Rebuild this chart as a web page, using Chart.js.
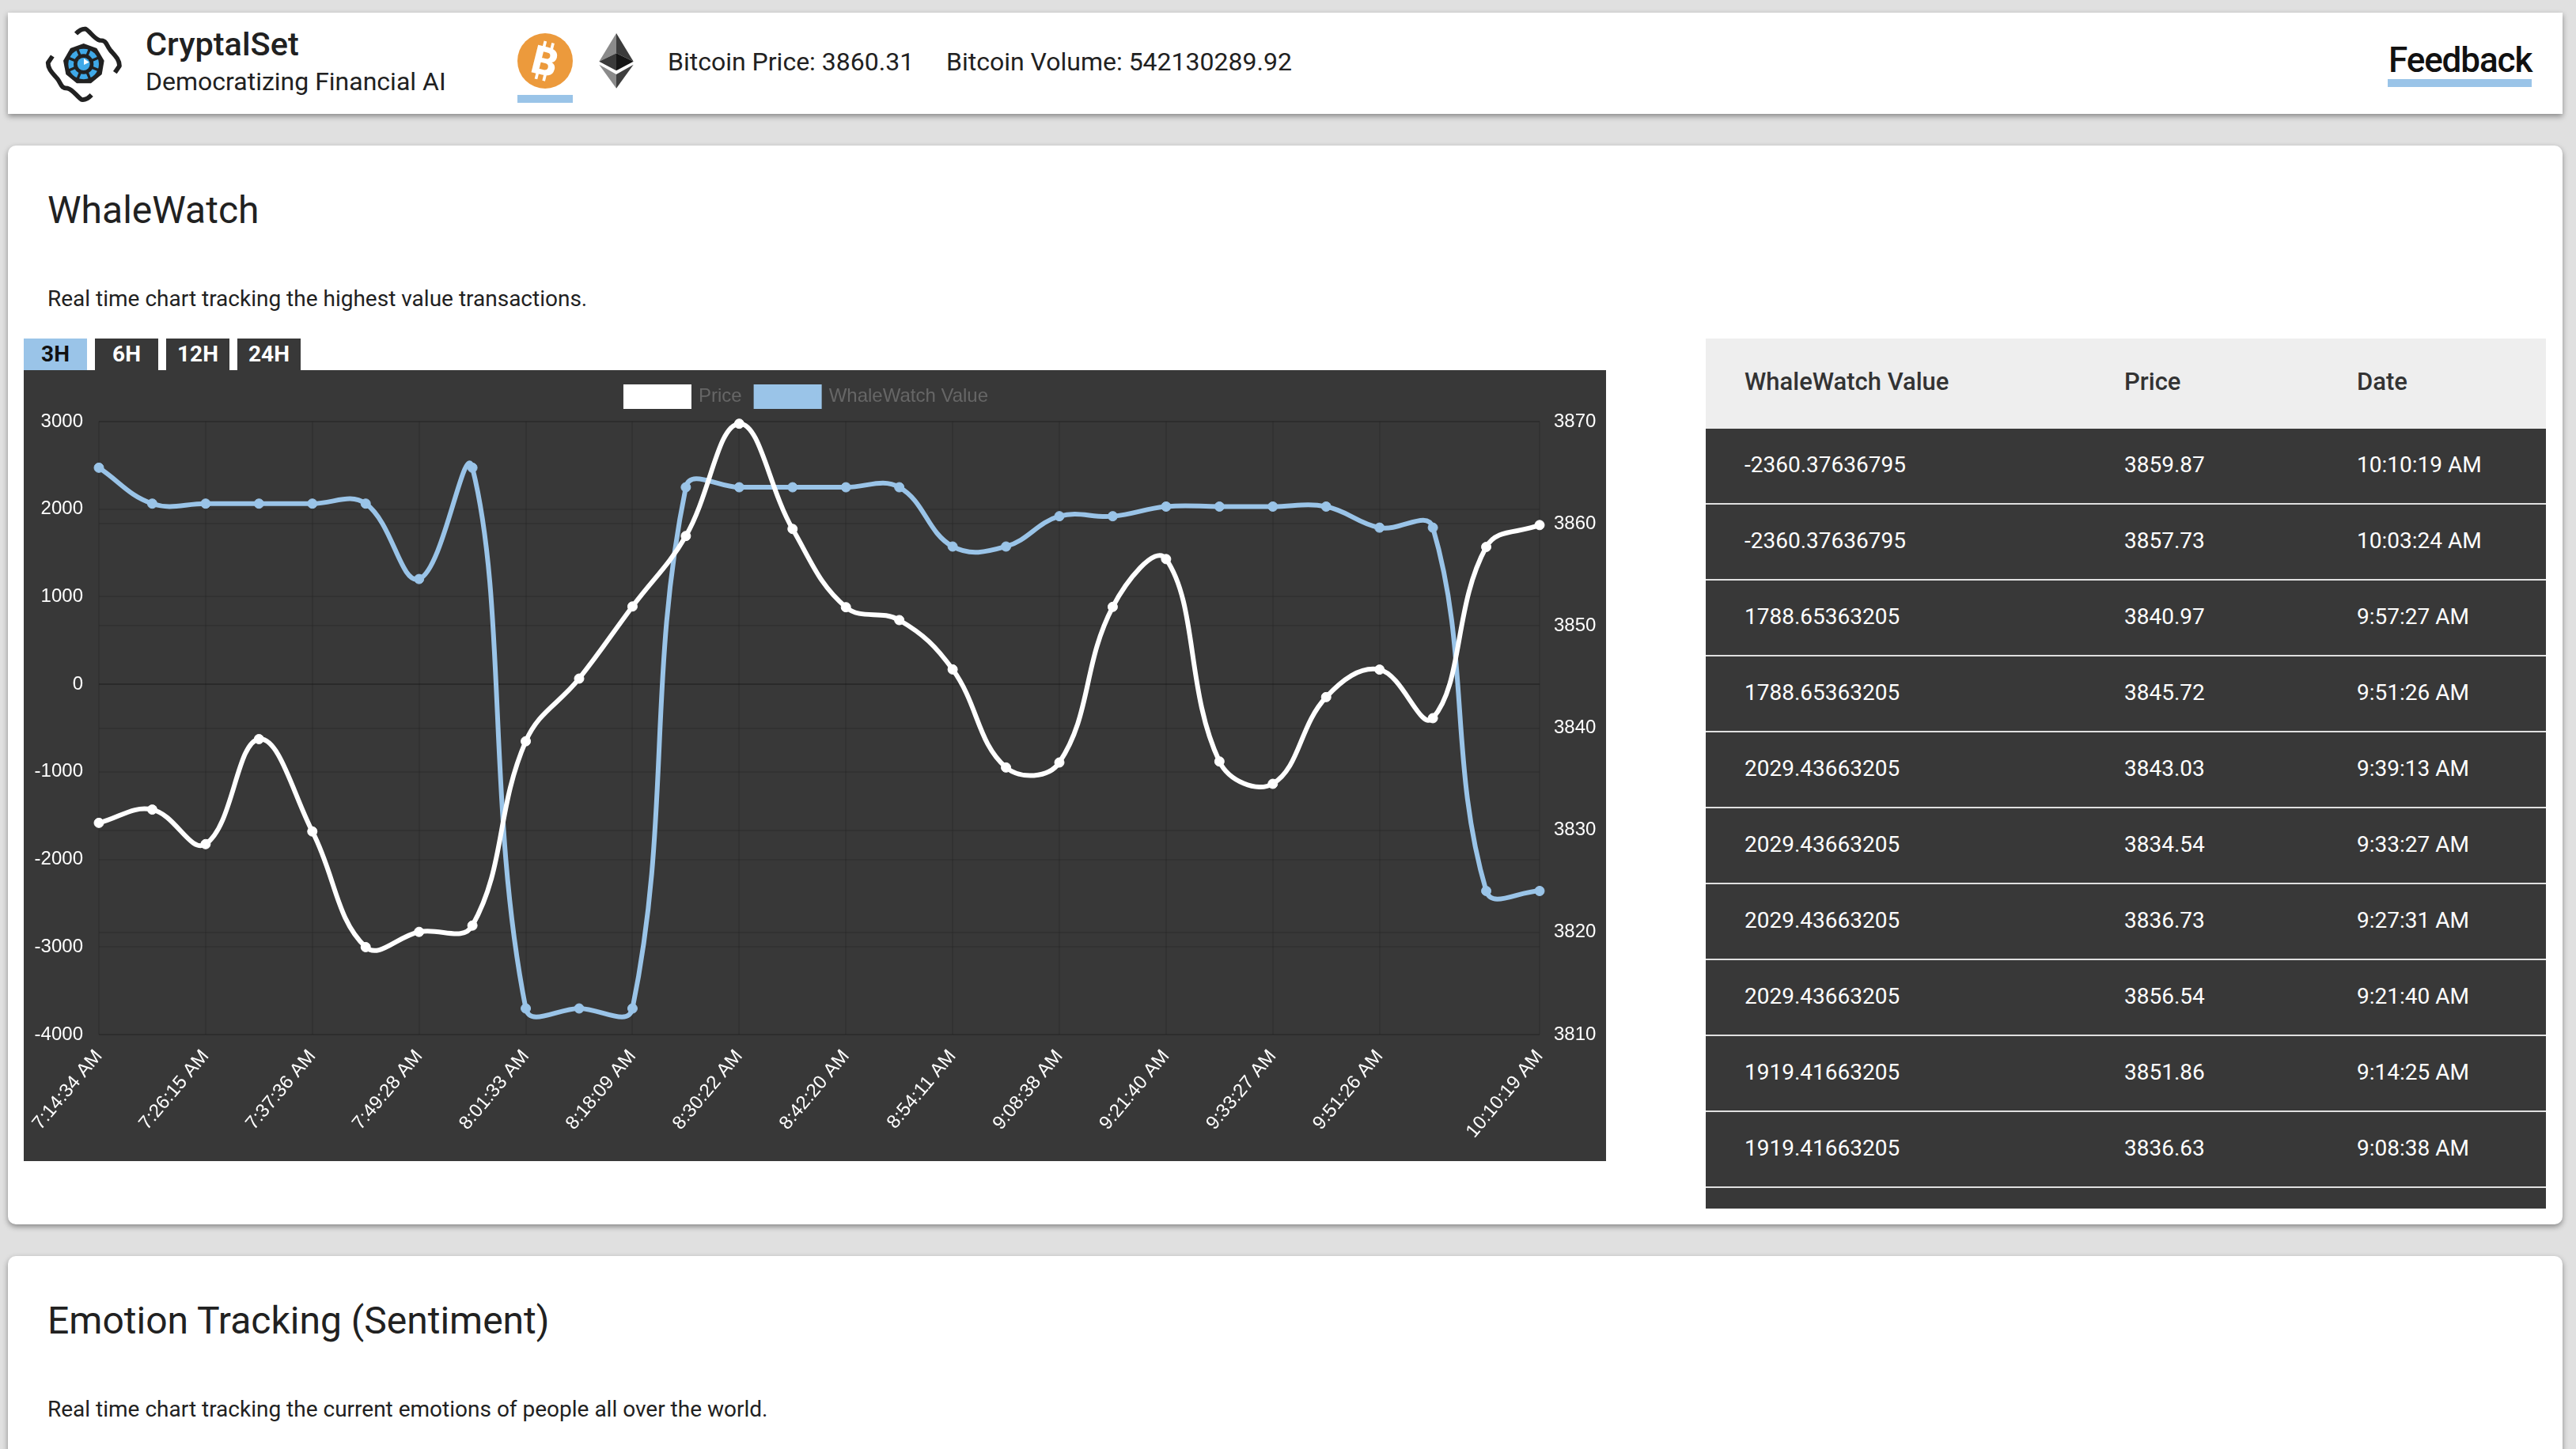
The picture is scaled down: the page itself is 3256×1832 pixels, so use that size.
<!DOCTYPE html>
<html><head><meta charset="utf-8"><title>CryptalSet WhaleWatch</title>
<script src="https://cdn.jsdelivr.net/npm/chart.js@4"></script>
<style>
html,body{margin:0;padding:0;width:3256px;height:1832px;overflow:hidden;background:#e0e0e0;font-family:Roboto,sans-serif;color:#212121}
.abs,.card,.t,.btn,.cell{position:absolute}
.card{background:#fff;left:10px;width:3229px;box-shadow:0 3px 7px rgba(0,0,0,.4);}
.t{white-space:nowrap;line-height:1}
.btn{top:428px;width:80px;height:40px;background:#383838;color:#fff;font:700 28px/40px Roboto,sans-serif;text-align:center}
.cell{white-space:nowrap;line-height:1;color:#fff;font-size:28px}
</style></head><body>
<script>
const timeLabels=["7:14:34 AM","7:20:20 AM","7:26:15 AM","7:32:00 AM","7:37:36 AM","7:43:30 AM","7:49:28 AM","7:55:30 AM","8:01:33 AM","8:10:00 AM","8:18:09 AM","8:24:15 AM","8:30:22 AM","8:36:20 AM","8:42:20 AM","8:48:15 AM","8:54:11 AM","9:01:20 AM","9:08:38 AM","9:14:25 AM","9:21:40 AM","9:27:31 AM","9:33:27 AM","9:39:13 AM","9:51:26 AM","9:57:27 AM","10:03:24 AM","10:10:19 AM"];
const priceValues=[3830.72,3832.02,3828.64,3838.92,3829.88,3818.56,3820.05,3820.67,3838.71,3844.84,3851.9,3858.8,3869.79,3859.49,3851.83,3850.57,3845.74,3836.14,3836.63,3851.86,3856.54,3836.73,3834.54,3843.03,3845.72,3840.97,3857.73,3859.87];
const whaleValues=[2473,2063,2063,2063,2063,2063,1202,2473,-3702,-3702,-3702,2250,2250,2250,2250,2250,1573,1573,1919.42,1919.42,2029.44,2029.44,2029.44,2029.44,1788.65,1788.65,-2360.38,-2360.38];
const shownTicks=[0,2,4,6,8,10,12,14,16,18,20,22,24,27];
const leftTicks=[3000,2000,1000,0,-1000,-2000,-3000,-4000];
const rightTicks=[3870,3860,3850,3840,3830,3820,3810];
const tableValues=["-2360.37636795","-2360.37636795","1788.65363205","1788.65363205","2029.43663205","2029.43663205","2029.43663205","2029.43663205","1919.41663205","1919.41663205"];
const tablePrices=["3859.87","3857.73","3840.97","3845.72","3843.03","3834.54","3836.73","3856.54","3851.86","3836.63"];
const tableDates=["10:10:19 AM","10:03:24 AM","9:57:27 AM","9:51:26 AM","9:39:13 AM","9:33:27 AM","9:27:31 AM","9:21:40 AM","9:14:25 AM","9:08:38 AM"];

const page=[];
const T=(txt,x,y,css)=>page.push(`<div class="t" style="left:${x}px;top:${y}px;${css}">${txt}</div>`);
const R=(x,y,w,h,c)=>page.push(`<div class="abs" style="left:${x}px;top:${y}px;width:${w}px;height:${h}px;background:${c}"></div>`);
page.push('<div class="card" style="top:16px;height:128px"></div>');
page.push('<div class="card" style="top:184px;height:1364px;border-radius:10px"></div>');
page.push('<div class="card" style="top:1588px;height:300px;border-radius:10px"></div>');
// logo
const spokes=[0,45,90,135,180,225,270,315].map(a=>`<line x1="197" y1="183" x2="197" y2="118" transform="rotate(${a+22} 197 183)"/>`).join('');
page.push(`<svg class="abs" style="left:40px;top:20px" width="130" height="120" viewBox="0 0 390 360">
<g fill="none" stroke="#212121" stroke-width="17" stroke-linejoin="round">
<path d="M168 68 C180 55 190 48 205 50 C222 60 238 88 258 93 C285 92 282 110 298 130 C315 150 333 165 333 190 L316 215"/>
<path d="M227 300 C215 313 205 320 190 318 C173 308 157 280 137 275 C110 276 113 258 97 238 C80 218 62 203 62 178 L79 153"/></g>
<polygon points="197,105 247,123 275,170 266,222 225,256 171,256 130,222 120,170 147,123" fill="#212121"/>
<circle cx="197" cy="183" r="58" fill="#3FA9E8"/><g stroke="#212121" stroke-width="10">${spokes}</g>
<circle cx="197" cy="183" r="38" fill="#212121"/><circle cx="197" cy="183" r="24" fill="#3FA9E8"/>
<polygon points="198,162 218,176 198,186" fill="#fff"/></svg>`);
T('CryptalSet',184,35,'font-size:41.5px;font-weight:500');
T('Democratizing Financial AI',184,87,'font-size:32px');
// bitcoin and ether icons
page.push(`<svg class="abs" style="left:640px;top:30px" width="180" height="110" viewBox="0 0 540 330">
<circle cx="147" cy="141" r="105" fill="#EC9A3C"/>
<g transform="rotate(14 147 141)"><text x="147" y="195" text-anchor="middle" font-family="Roboto" font-weight="900" font-size="150" fill="#fff">B</text>
<g stroke="#fff" stroke-width="11"><path d="M130 68V92M160 68V92M130 192V216M160 192V216"/></g></g>
<polygon points="417,36 352,143 417,112" fill="#8a8a8a"/><polygon points="417,36 482,143 417,112" fill="#3c3c3c"/>
<polygon points="352,143 417,112 417,178" fill="#3a3a3a"/><polygon points="482,143 417,112 417,178" fill="#151515"/>
<polygon points="352,155 417,192 417,245" fill="#8a8a8a"/><polygon points="482,155 417,192 417,245" fill="#3e3e3e"/></svg>`);
R(654,120,70,10,'#9AC4E8');
T('Bitcoin Price: 3860.31',844,62,'font-size:32px');
T('Bitcoin Volume: 542130289.92',1196,62,'font-size:32px');
T('Feedback',3019,54,'font-size:44px;font-weight:500;letter-spacing:-1.1px;color:#111');
R(3018,100,182,10,'#9AC4E8');
T('WhaleWatch',60,242,'font-size:48px');
T('Real time chart tracking the highest value transactions.',60,364,'font-size:28px');
T('Emotion Tracking (Sentiment)',60,1646,'font-size:48px');
T('Real time chart tracking the current emotions of people all over the world.',60,1768,'font-size:28px');
[['3H',30],['6H',120],['12H',210],['24H',300]].forEach((b,i)=>page.push(`<div class="btn" style="left:${b[1]}px;${i==0?'background:#9AC4E8;color:#111':''}">${b[0]}</div>`));
// table
R(2156,428,1062,114,'#eee');
R(2156,542,1062,986,'#383838');
[['WhaleWatch Value',2205],['Price',2685],['Date',2979]].forEach(h=>T(h[0],h[1],467,'font-size:31px;font-weight:500;color:#333'));
tableValues.forEach((v,i)=>{
  const y=542+96*i;
  R(2156,y+94,1062,2,'#e0e0e0');
  page.push(`<div class="cell" style="left:2205px;top:${y+32}px">${v}</div><div class="cell" style="left:2685px;top:${y+32}px">${tablePrices[i]}</div><div class="cell" style="left:2979px;top:${y+32}px">${tableDates[i]}</div>`);
});
page.push('<canvas id="c" class="abs" width="2000" height="1000" style="left:30px;top:468px;width:2000px;height:1000px;background:#383838"></canvas>');
document.body.insertAdjacentHTML('beforeend',page.join(''));

const F='"Liberation Sans",Helvetica,Arial,sans-serif';
const gridColor=c=>c.tick&&c.tick.value===0?'rgba(0,0,0,0.25)':'rgba(0,0,0,0.1)';
const plain=v=>String(v);
new Chart(document.getElementById('c'),{
 type:'line',
 data:{labels:timeLabels,datasets:[
  {label:'Price',data:priceValues,yAxisID:'yR',borderColor:'#fff',backgroundColor:'#fff',pointBackgroundColor:'#fff',pointBorderColor:'#fff',borderWidth:6,pointRadius:6,pointBorderWidth:1,tension:0.4,fill:false,clip:false},
  {label:'WhaleWatch Value',data:whaleValues,yAxisID:'yL',borderColor:'#9AC4E8',backgroundColor:'#9AC4E8',pointBackgroundColor:'#9AC4E8',pointBorderColor:'#9AC4E8',borderWidth:6,pointRadius:6,pointBorderWidth:1,tension:0.4,fill:false,clip:false}
 ]},
 options:{responsive:false,animation:false,devicePixelRatio:1,
  layout:{padding:{top:12,left:0,right:0,bottom:0}},
  plugins:{tooltip:{enabled:false},title:{display:false},
   legend:{display:true,position:'top',labels:{boxWidth:80,boxHeight:25,padding:18,color:'#666',font:{family:F,size:24}}}},
  scales:{
   x:{grid:{color:'rgba(0,0,0,0.1)',lineWidth:2,drawTicks:false},border:{display:false},
      afterBuildTicks:a=>{a.ticks=a.ticks.filter(t=>shownTicks.includes(t.value));},
      afterFit:a=>{a.height=160;},
      ticks:{autoSkip:false,maxRotation:50,minRotation:50,color:'#fff',padding:14,font:{family:F,size:24}}},
   yL:{position:'left',min:-4000,max:3000,afterFit:a=>{a.width=95;},
      afterBuildTicks:a=>{a.ticks=leftTicks.map(v=>({value:v}));},
      grid:{color:gridColor,lineWidth:2,drawTicks:false},border:{display:false},
      ticks:{color:'#fff',padding:20,callback:plain,font:{family:F,size:24}}},
   yR:{position:'right',min:3810,max:3870,afterFit:a=>{a.width=84;},
      afterBuildTicks:a=>{a.ticks=rightTicks.map(v=>({value:v}));},
      grid:{color:'rgba(0,0,0,0.1)',lineWidth:2,drawTicks:false},border:{display:false},
      ticks:{color:'#fff',padding:18,callback:plain,font:{family:F,size:24}}}
  }},
 plugins:[{id:'legendShift',afterLayout(c){c.legend.left-=20;c.legend.top-=9;}}]
});
</script></body></html>
